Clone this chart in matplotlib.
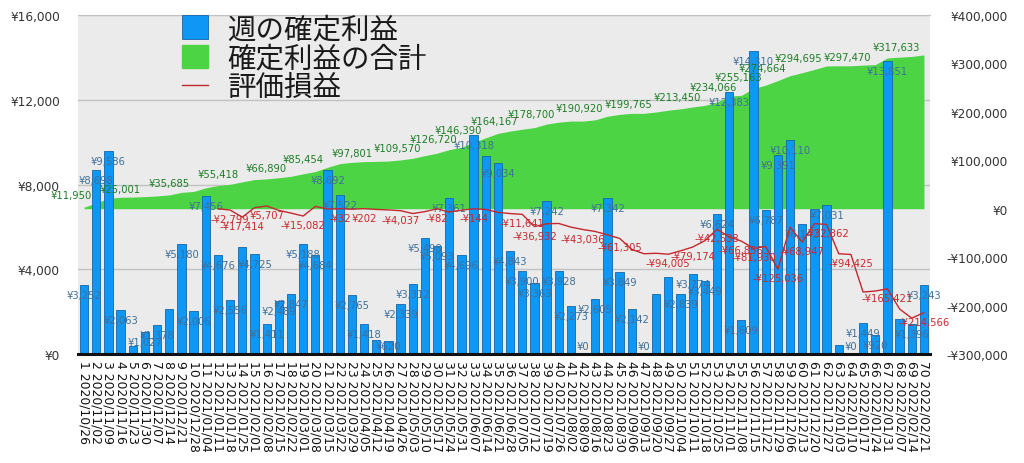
import numpy as np
import matplotlib
matplotlib.use('Agg')
import matplotlib.pyplot as plt
from matplotlib.patches import Patch
from matplotlib.lines import Line2D

plt.rcParams['font.family'] = ['DejaVu Sans', 'Noto Sans CJK JP']

# ---------------- data ----------------
dates = [
    "2020/10/26", "2020/11/02", "2020/11/09", "2020/11/16", "2020/11/23", "2020/11/30",
    "2020/12/07", "2020/12/14", "2020/12/21", "2020/12/28",
    "2021/01/04", "2021/01/11", "2021/01/18", "2021/01/25", "2021/02/01", "2021/02/08",
    "2021/02/15", "2021/02/22", "2021/03/01", "2021/03/08", "2021/03/15", "2021/03/22",
    "2021/03/29", "2021/04/05", "2021/04/12", "2021/04/19", "2021/04/26", "2021/05/03",
    "2021/05/10", "2021/05/17", "2021/05/24", "2021/05/31", "2021/06/07", "2021/06/14",
    "2021/06/21", "2021/06/28", "2021/07/05", "2021/07/12", "2021/07/19", "2021/07/26",
    "2021/08/02", "2021/08/09", "2021/08/16", "2021/08/23", "2021/08/30", "2021/09/06",
    "2021/09/13", "2021/09/20", "2021/09/27", "2021/10/04", "2021/10/11", "2021/10/18",
    "2021/10/25", "2021/11/01", "2021/11/08", "2021/11/15", "2021/11/22", "2021/11/29",
    "2021/12/06", "2021/12/13", "2021/12/20", "2021/12/27",
    "2022/01/03", "2022/01/10", "2022/01/17", "2022/01/24", "2022/01/31", "2022/02/07",
    "2022/02/14", "2022/02/21",
]

weekly_profit = [
    3252, 8698, 9586, 2063, 375, 1027, 1378, 2120, 5180, 2006,
    7456, 4676, 2556, 5045, 4725, 1411, 2489, 2847, 5188, 4684,
    8692, 7522, 2765, 1418, 642, 620, 2339, 3312, 5498, 5093,
    7361, 4696, 10318, 9352, 9034, 4843, 3900, 3363, 7242, 3928,
    2273, 0, 2605, 7342, 3849, 2142, 0, 2854, 3623, 2839,
    3774, 3449, 6624, 12383, 1609, 14310, 6787, 9391, 10110, 6142,
    6858, 7031, 406, 0, 1449, 920, 13851, 1673, 1396, 3243,
]

nan = np.nan
unrealized = [
    nan, nan, nan, nan, nan, nan, nan, nan, nan, nan,
    nan, 0, -2799, -17414, 2000, 5707, -3500, -9000, -15082, 4700,
    -500, -32, -1000, 202, -1500, -2500, -4037, -10000, -6000, -82,
    -7000, -3000, -144, -1500, -7500, -10000, -11641, -36932, -31000, -30500,
    -38000, -43036, -47000, -54000, -61305, -84000, -93000, -92000, -94005, -87000,
    -79174, -66000, -42538, -58000, -66856, -81930, -78000, -125036, -38000, -68947,
    -31000, -32362, -93000, -94425, -172000, -170000, -165421, -207000, -226000, -214566,
]

# weeks (1-based) that carry a value label in the reference
bar_label_weeks = [1, 2, 3, 4, 6, 7, 9, 10, 11, 12, 13, 15, 16, 17, 18, 19, 20, 21, 22, 23,
                   24, 26, 27, 28, 29, 30, 31, 32, 33, 35, 36, 37, 38, 39, 40, 41, 42, 43,
                   44, 45, 46, 47, 50, 51, 52, 53, 54, 55, 56, 57, 58, 59, 60, 62, 64, 65,
                   66, 67, 69, 70]
total_label_weeks = [2, 6, 10, 14, 18, 21, 25, 29, 32, 34, 37, 40, 44, 48, 52, 55, 57, 59,
                     62, 66, 70]
unreal_label_weeks = [13, 14, 16, 19, 22, 24, 27, 30, 33, 37, 38, 42, 45, 49, 51, 53, 55,
                      56, 58, 60, 62, 64, 67, 70]

left_ticks = [0, 4000, 8000, 12000, 16000]
right_ticks = [-300000, -200000, -100000, 0, 100000, 200000, 300000, 400000]
legend_labels = ["週の確定利益", "確定利益の合計", "評価損益"]

# ---------------- style ----------------
BLUE = '#0f97f5'
BLUE_EDGE = '#1466a8'
GREEN = '#4cd444'
RED = '#c4282e'
BLUE_TXT = '#3f6f99'
GREEN_TXT = '#1e7d26'
RED_TXT = '#c8282e'


def yen(v):
    v = int(round(v))
    return ("-¥{:,}".format(-v)) if v < 0 else "¥{:,}".format(v)


x = np.arange(1, len(weekly_profit) + 1)
total = np.cumsum(weekly_profit)

W, H = 1024, 464
fig = plt.figure(figsize=(W / 100, H / 100), dpi=100)
L, R, T, B = 78, 930, 16, 355
rect = [L / W, 1 - B / H, (R - L) / W, (B - T) / H]

# background + grid (left scale)
ax_bg = fig.add_axes(rect)
ax_bg.set_facecolor('#ebebeb')
ax_bg.set_xlim(0.5, len(x) + 0.5)
ax_bg.set_ylim(0, 16000)
ax_bg.set_yticks(left_ticks)
ax_bg.set_xticks([])
ax_bg.grid(axis='y', color='#c2c2c2', lw=1)
ax_bg.tick_params(left=False, labelleft=False)
for s in ['left', 'right', 'bottom']:
    ax_bg.spines[s].set_visible(False)
ax_bg.spines['top'].set_color('#c2c2c2')

# cumulative area (right scale)
ax_area = fig.add_axes(rect)
ax_area.patch.set_visible(False)
ax_area.set_xlim(0.5, len(x) + 0.5)
ax_area.set_ylim(-300000, 400000)
ax_area.fill_between(x, 0, total, color=GREEN, lw=0)
ax_area.axis('off')

# weekly bars (left scale)
ax_bar = fig.add_axes(rect)
ax_bar.patch.set_visible(False)
ax_bar.set_xlim(0.5, len(x) + 0.5)
ax_bar.set_ylim(0, 16000)
ax_bar.bar(x, weekly_profit, width=0.68, color=BLUE, edgecolor=BLUE_EDGE, lw=0.6)
ax_bar.set_yticks(left_ticks, [yen(t) for t in left_ticks])
ax_bar.tick_params(axis='y', length=0, pad=13, labelsize=8.7, labelcolor='#333333')
ax_bar.set_xticks(x, ["{} {}".format(i, d) for i, d in zip(x, dates)], rotation=-90)
ax_bar.tick_params(axis='x', length=0, pad=4, labelsize=8.9, labelcolor='#111111')
for s in ['left', 'right', 'top']:
    ax_bar.spines[s].set_visible(False)
ax_bar.spines['bottom'].set_linewidth(2.2)
ax_bar.spines['bottom'].set_color('#111111')

# bar value labels
y0 = ax_bar.transData.transform((0, 0))[1]
for w in bar_label_weeks:
    v = weekly_profit[w - 1]
    hpx = ax_bar.transData.transform((0, v))[1] - y0
    off = -10 if hpx - 10 > 8.3 else 8.3 - hpx
    ax_bar.annotate(yen(v), (w, v), xytext=(0, off), textcoords='offset pixels',
                    ha='center', va='center', fontsize=7.2, color=BLUE_TXT, zorder=5)

# unrealized line (right scale)
ax_line = fig.add_axes(rect)
ax_line.patch.set_visible(False)
ax_line.set_xlim(0.5, len(x) + 0.5)
ax_line.set_ylim(-300000, 400000)
ax_line.plot(x, unrealized, color=RED, lw=1.0)
ax_line.yaxis.tick_right()
ax_line.set_yticks(right_ticks, [yen(t) for t in right_ticks], ha='right')
ax_line.tick_params(axis='y', length=0, pad=56, labelsize=8.7, labelcolor='#333333')
ax_line.set_xticks([])
for s in ax_line.spines.values():
    s.set_visible(False)

for w in unreal_label_weeks:
    v = unrealized[w - 1]
    ax_line.annotate(yen(v), (w, v), xytext=(0, -9), textcoords='offset pixels',
                     ha='center', va='center', fontsize=7.2, color=RED_TXT)

for w in total_label_weeks:
    v = total[w - 1]
    ax_line.annotate(yen(v), (w, v), xytext=(-4, 8), textcoords='offset pixels',
                     ha='right', va='center', fontsize=7.2, color=GREEN_TXT)

handles = [Patch(facecolor=BLUE, edgecolor=BLUE_EDGE, lw=0.6),
           Patch(facecolor=GREEN, edgecolor=GREEN),
           Line2D([], [], color=RED, lw=1.0)]
ax_line.legend(handles, legend_labels, loc='upper left',
               bbox_to_anchor=((182 - L) / (R - L), 1.0), frameon=False,
               fontsize=20.5, handlelength=0.9, handleheight=0.9, handletextpad=0.7,
               labelspacing=0.05, borderpad=0, borderaxespad=0, labelcolor='#1a1a1a')

fig.savefig('out.png', dpi=100)
